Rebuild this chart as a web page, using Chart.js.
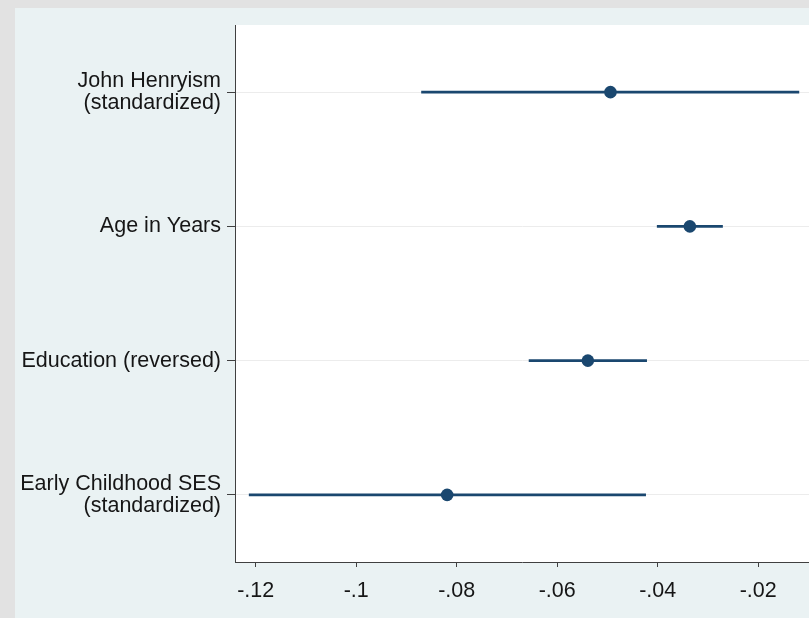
<!DOCTYPE html>
<html>
<head>
<meta charset="utf-8">
<script src="https://cdn.jsdelivr.net/npm/chart.js@4/dist/chart.umd.min.js"></script>
<style>
  html, body { margin: 0; padding: 0; background: #eaf2f3; }
  #wrap { width: 809px; height: 618px; position: relative; }
</style>
</head>
<body>
<div id="wrap"><canvas id="c" width="809" height="618"></canvas></div>
<script>
// Coefficient plot: point estimates with 95% confidence intervals
const categories = [
  ["John Henryism", "(standardized)"],
  "Age in Years",
  "Education (reversed)",
  ["Early Childhood SES", "(standardized)"]
];
const estimates = [-0.0494, -0.0336, -0.0539, -0.0819];
const ciLower   = [-0.0870, -0.0401, -0.0656, -0.1213];
const ciUpper   = [-0.0119, -0.0271, -0.0422, -0.0424];
const xTicks    = [-0.12, -0.10, -0.08, -0.06, -0.04, -0.02];
const xTickLabels = ["-.12", "-.1", "-.08", "-.06", "-.04", "-.02"];

const navy = "#1a476f";
const textColor = "#161616";
const axisColor = "#404040";
const fontFamily = "'Liberation Sans', Arial, sans-serif";

const ciPairs = ciLower.map((lo, i) => [lo, ciUpper[i]]);

// Paints the graph region, the framing bands and the white plot region
const backdrop = {
  id: "backdrop",
  beforeDraw(chart) {
    const { ctx, chartArea: a, width, height } = chart;
    ctx.save();
    ctx.fillStyle = "#eaf2f3";
    ctx.fillRect(0, 0, width, height);
    ctx.fillStyle = "#e2e2e2";
    ctx.fillRect(0, 0, width, 8);
    ctx.fillRect(0, 0, 15, height);
    ctx.fillStyle = "#ffffff";
    ctx.fillRect(a.left, a.top, a.right - a.left, a.bottom - a.top);
    ctx.restore();
  }
};

new Chart(document.getElementById("c"), {
  type: "bar",
  data: {
    labels: categories,
    datasets: [
      {
        type: "bar",
        data: ciPairs,
        backgroundColor: navy,
        borderWidth: 0,
        barThickness: 2,
        grouped: false,
        order: 2
      },
      {
        type: "line",
        data: estimates,
        showLine: false,
        pointRadius: 6.3,
        pointHoverRadius: 6.3,
        pointBackgroundColor: navy,
        pointBorderWidth: 0,
        order: 1
      }
    ]
  },
  options: {
    indexAxis: "y",
    responsive: false,
    animation: false,
    events: [],
    layout: { autoPadding: false, padding: { top: 25, right: 0, bottom: 0, left: 0 } },
    plugins: { legend: { display: false }, tooltip: { enabled: false } },
    scales: {
      x: {
        type: "linear",
        min: -0.12412,
        max: -0.00989,
        afterBuildTicks(scale) {
          scale.ticks = xTicks.map(v => ({ value: v }));
        },
        afterFit(scale) {
          scale.height = 56;
          scale.paddingLeft = 0;
          scale.paddingRight = 0;
        },
        ticks: {
          autoSkip: false,
          maxRotation: 0,
          padding: 11,
          color: textColor,
          font: { family: fontFamily, size: 21.5 },
          callback(value) {
            const i = xTicks.findIndex(t => Math.abs(t - value) < 1e-9);
            return i >= 0 ? xTickLabels[i] : "";
          }
        },
        grid: {
          drawOnChartArea: false,
          drawTicks: true,
          tickLength: 5,
          tickColor: axisColor,
          tickWidth: 1
        },
        border: { display: true, color: axisColor, width: 1 }
      },
      y: {
        type: "category",
        offset: true,
        afterFit(scale) {
          scale.width = 235;
          scale.paddingTop = 0;
          scale.paddingBottom = 0;
        },
        ticks: {
          autoSkip: false,
          padding: 6,
          color: textColor,
          font: { family: fontFamily, size: 21.5, lineHeight: 1.0 }
        },
        grid: {
          offset: false,
          drawOnChartArea: true,
          color: "#ececec",
          lineWidth: 1,
          drawTicks: true,
          tickLength: 8,
          tickColor: axisColor,
          tickWidth: 1
        },
        border: { display: true, color: axisColor, width: 1 }
      }
    }
  },
  plugins: [backdrop]
});
</script>
</body>
</html>
